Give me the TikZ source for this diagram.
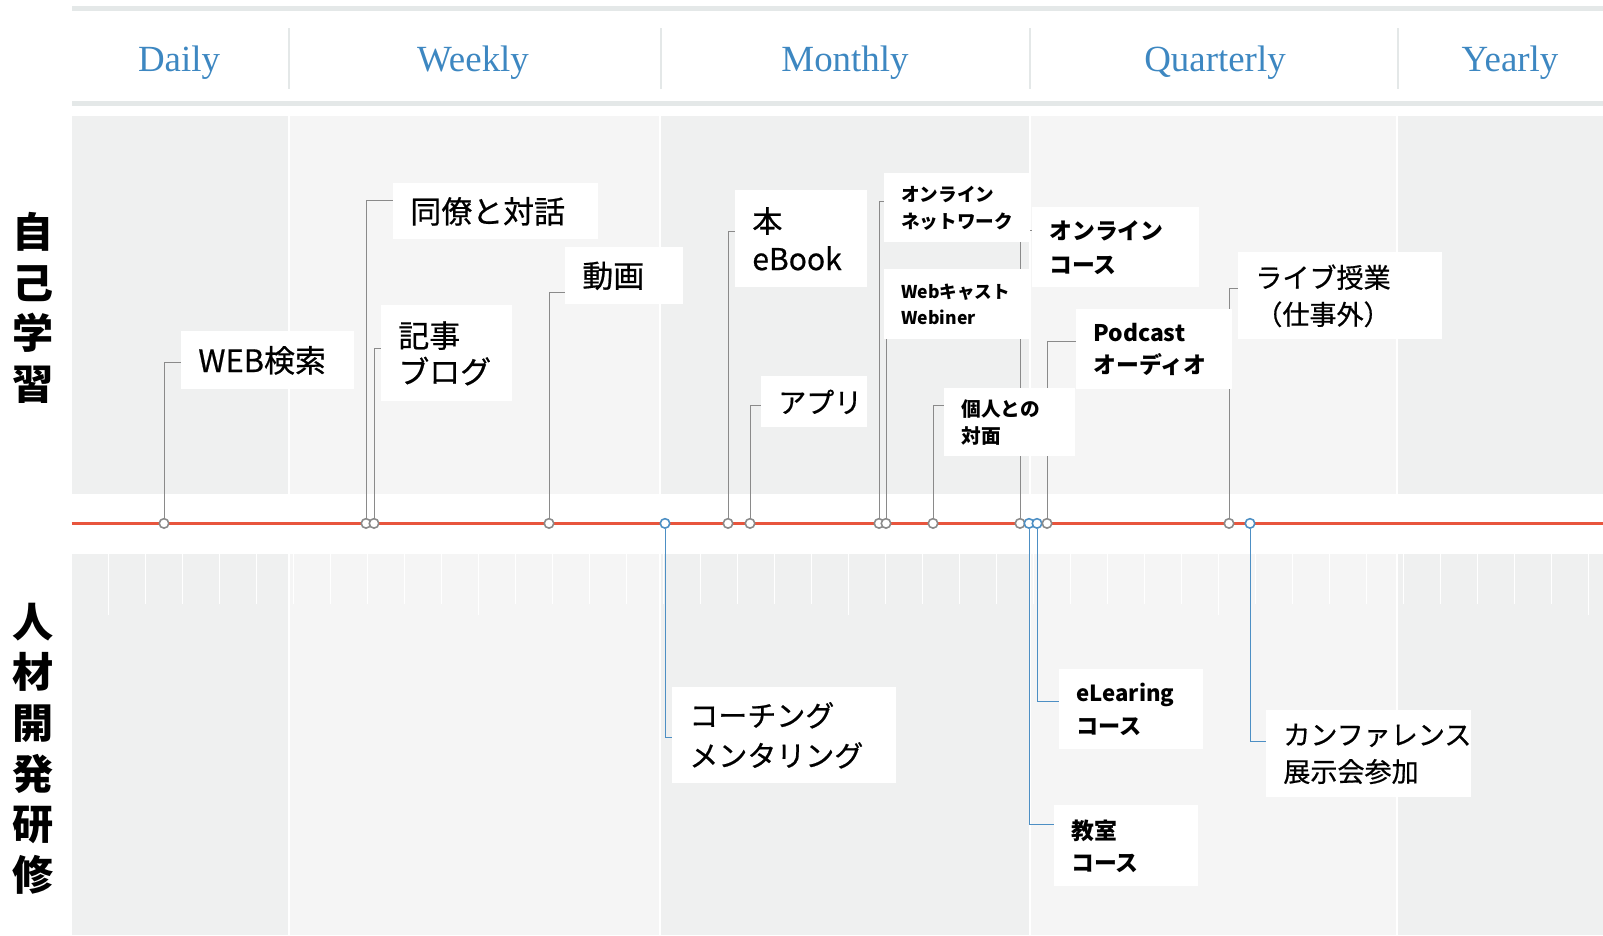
\documentclass[tikz,border=0pt]{standalone}
\usepackage{fontspec}
\setmainfont{Liberation Serif}
\newfontfamily\jp{Noto Sans CJK JP}
\newfontfamily\jpm[FakeBold=0.6]{Noto Sans CJK JP}
\usetikzlibrary{calc}
\pgfdeclarelayer{back}
\pgfdeclarelayer{links}
\pgfsetlayers{back,links,main}
\definecolor{bandgray}{HTML}{E4E8E8}
\definecolor{hdrblue}{HTML}{3D87C1}
\definecolor{paneldark}{HTML}{EFF0F0}
\definecolor{panellight}{HTML}{F5F5F5}
\definecolor{timeline}{HTML}{E8553D}
\definecolor{selfgray}{HTML}{8A8A8A}
\definecolor{trainblue}{HTML}{4D8FC4}
\newcommand{\jpsize}[2]{\jp\fontsize{#1}{#2}\selectfont}
\newcommand{\jpmsize}[2]{\jpm\fontsize{#1}{#2}\selectfont}
\tikzset{
every picture/.style={line width=1pt},
%%%%%%%%%%  Node styles
header/.style={text=hdrblue, anchor=base, font=\fontsize{21}{24}\selectfont},
category/.style={align=center, font=\jpsize{23.4}{28.8}\bfseries},
labelbox/.style 2 args={fill=white, anchor=north west, align=left,
                 inner xsep=3.4mm, inner ysep=0pt,
                 text width=#1, minimum height=#2},
selfdot/.style={circle, draw=selfgray, fill=white, line width=0.9pt,
                inner sep=0pt, minimum size=1.9mm},
traindot/.style={selfdot, draw=trainblue},
%%%% different line styles:
selflink/.style={draw=selfgray},
trainlink/.style={draw=trainblue},
band/.style={fill=bandgray}
}

\begin{document}
\begin{tikzpicture}[x=0.2mm,y=-0.2mm]
\useasboundingbox (0,0) rectangle (1603,935);
%%%% background panels
\begin{pgfonlayer}{back}
\fill[band] (71.5,6) rectangle (1603,11);
\fill[band] (71.5,101) rectangle (1603,106);
\foreach \x in {289,661,1030,1398}
  \draw[bandgray, line width=0.4mm] (\x,28) -- (\x,89);
\foreach \xa/\xb/\c in {71.5/288/paneldark, 290/659/panellight,
                       661/1029/paneldark, 1031/1396/panellight,
                       1398/1603/paneldark}{
  \fill[\c] (\xa,116) rectangle (\xb,494);
  \fill[\c] (\xa,554) rectangle (\xb,935);
}
\foreach \k in {1,...,41}
  \draw[white, line width=0.5pt] (71.5+37*\k,554) -- (71.5+37*\k,604);
\foreach \k in {1,11,21,31,41}
  \draw[white, line width=0.5pt] (71.5+37*\k,604) -- (71.5+37*\k,615);
\end{pgfonlayer}

%%%% headers
\node[header] (daily) at (179,71) {Daily};
\node[header] (weekly) at (473,71) {Weekly};
\node[header] (monthly) at (845,71) {Monthly};
\node[header] (quarterly) at (1215,71) {Quarterly};
\node[header] (yearly) at (1510,71) {Yearly};

\node[category] (self) at (33,308) {自\\己\\学\\習};
\node[category] (hrd) at (33,748.5) {人\\材\\開\\発\\研\\修};

\draw[timeline, line width=0.7mm] (71.5,523.4) -- (1603,523.4);

%%%% dots on the time line
\node[selfdot] (d-web) at (164,523.4) {};
\node[selfdot] (d-colleague) at (366,523.4) {};
\node[selfdot] (d-article) at (374,523.4) {};
\node[selfdot] (d-video) at (549,523.4) {};
\node[traindot] (d-coach) at (665,523.4) {};
\node[selfdot] (d-book) at (728,523.4) {};
\node[selfdot] (d-app) at (750,523.4) {};
\node[selfdot] (d-network) at (879,523.4) {};
\node[selfdot] (d-webcast) at (886,523.4) {};
\node[selfdot] (d-face) at (933,523.4) {};
\node[selfdot] (d-course) at (1020,523.4) {};
\node[traindot] (d-class) at (1029,523.4) {};
\node[traindot] (d-elearn) at (1037,523.4) {};
\node[selfdot] (d-podcast) at (1047,523.4) {};
\node[selfdot] (d-live) at (1229,523.4) {};
\node[traindot] (d-conf) at (1250,523.4) {};

%%%% label boxes
\node[labelbox={27.8mm}{11.6mm}, font=\jpmsize{17.6}{20.5}] (web) at (181,331) {WEB検索};
\node[labelbox={34.2mm}{11.2mm}, font=\jpmsize{17.6}{20.5}] (colleague) at (393,183) {同僚と対話};
\node[labelbox={19.4mm}{19.2mm}, font=\jpmsize{17.6}{20.5}] (article) at (381,305) {記事\\ブログ};
\node[labelbox={16.8mm}{11.4mm}, font=\jpmsize{17.6}{20.5}] (video) at (565,247) {動画};
\node[labelbox={19.6mm}{19.4mm}, font=\jpmsize{17.1}{21.4}] (book) at (735,190) {本\\eBook};
\node[labelbox={14.4mm}{10.2mm}, font=\jpmsize{15.9}{19}] (app) at (761,376) {アプリ};
\node[labelbox={22.4mm}{13.8mm}, font=\jpsize{10.6}{15.4}\bfseries] (network) at (884,173) {オンライン\\ネットワーク};
\node[labelbox={22.4mm}{14mm}, font=\jpsize{10}{14.8}\bfseries] (webcast) at (884,269) {Webキャスト\\Webiner};
\node[labelbox={26.6mm}{16mm}, font=\jpsize{13}{19.3}\bfseries] (course) at (1032,207) {オンライン\\コース};
\node[labelbox={24.4mm}{16mm}, font=\jpsize{13}{18.2}\bfseries] (podcast) at (1076,309) {Podcast\\オーディオ};
\node[labelbox={19.4mm}{13.6mm}, font=\jpsize{11.2}{15.4}\bfseries] (face) at (944,388) {個人との\\対面};
\node[labelbox={34mm}{17.4mm}, font=\jpmsize{15.4}{21}] (live) at (1238,252) {ライブ授業\\（仕事外）};
\node[labelbox={38mm}{19.2mm}, font=\jpmsize{16.5}{22.8}] (coach) at (672,687) {コーチング\\メンタリング};
\node[labelbox={22mm}{16mm}, font=\jpsize{12.6}{18.8}\bfseries] (elearn) at (1059,669) {eLearing\\コース};
\node[labelbox={22mm}{16.2mm}, font=\jpsize{13}{18.2}\bfseries] (class) at (1054,805) {教室\\コース};
\node[labelbox={34.2mm}{17.4mm}, font=\jpmsize{15.4}{21}] (conf) at (1266,710) {カンファレンス\\展示会参加};

%%%% connectors
\begin{pgfonlayer}{links}
\draw[selflink] (d-web) |- ([yshift=-0.4mm]web.west);
\draw[selflink] (d-colleague) |- ([yshift=2.2mm]colleague.west);
\draw[selflink] (d-article) |- ([yshift=1mm]article.west);
\draw[selflink] (d-video) |- ([yshift=-3.3mm]video.west);
\draw[selflink] (d-book) |- ([yshift=1.5mm]book.west);
\draw[selflink] (d-app) |- ([yshift=-0.7mm]app.west);
\draw[selflink] (d-network) |- ([yshift=1.3mm]network.west);
\draw[selflink] (d-webcast) -- (d-webcast |- webcast.center);
\draw[selflink] (d-course) |- ([yshift=3.4mm]course.west);
\draw[selflink] (d-podcast) |- ([yshift=1.6mm]podcast.west);
\draw[selflink] (d-face) |- ([yshift=3.4mm]face.west);
\draw[selflink] (d-live) |- ([yshift=1.5mm]live.west);
\draw[trainlink] (d-coach) |- ([yshift=-0.4mm]coach.west);
\draw[trainlink] (d-elearn) |- ([yshift=1.6mm]elearn.west);
\draw[trainlink] (d-class) |- ([yshift=4.3mm]class.west);
\draw[trainlink] (d-conf) |- ([yshift=2.5mm]conf.west);
\end{pgfonlayer}
\end{tikzpicture}
\end{document}
